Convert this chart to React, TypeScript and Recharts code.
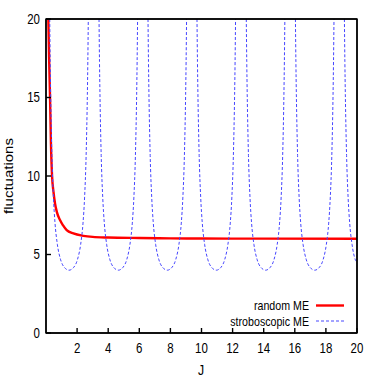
import { LineChart, Line, XAxis, YAxis } from 'recharts';

// random ME curve
const randomJ = [0.15, 0.2, 0.26, 0.32, 0.39, 0.48, 0.58, 0.7, 0.9, 1.1, 1.33, 1.76, 2.4, 3, 4, 6, 8, 10, 14, 20];
const randomValues = [20, 17.5, 15, 12, 10, 9, 8.25, 7.7, 7.19, 6.85, 6.55, 6.34, 6.19, 6.12, 6.08, 6.05, 6.03, 6.02, 6.01, 6.0];

// stroboscopic ME curve (null = goes off the top of the plot)
const stroboJ = [
  0.24, 0.27, 0.3, 0.38, 0.48, 0.58, 0.73, 0.93, 1.18, 1.48, 1.78, 2.03, 2.23, 2.38, 2.48, 2.58, 2.66, 2.69, 2.72,
  3.06,
  3.41, 3.44, 3.47, 3.55, 3.65, 3.75, 3.9, 4.1, 4.35, 4.65, 4.95, 5.2, 5.4, 5.55, 5.65, 5.75, 5.83, 5.86, 5.89,
  6.22,
  6.56, 6.59, 6.62, 6.7, 6.8, 6.9, 7.05, 7.25, 7.5, 7.8, 8.1, 8.35, 8.55, 8.7, 8.8, 8.9, 8.98, 9.01, 9.04,
  9.38,
  9.71, 9.74, 9.77, 9.85, 9.95, 10.05, 10.2, 10.4, 10.65, 10.95, 11.25, 11.5, 11.7, 11.85, 11.95, 12.05, 12.13, 12.16, 12.19,
  12.53,
  12.88, 12.91, 12.94, 13.02, 13.12, 13.22, 13.37, 13.57, 13.82, 14.12, 14.42, 14.67, 14.87, 15.02, 15.12, 15.22, 15.3, 15.33, 15.36,
  15.7,
  16.04, 16.07, 16.1, 16.18, 16.28, 16.38, 16.53, 16.73, 16.98, 17.28, 17.58, 17.83, 18.03, 18.18, 18.28, 18.38, 18.46, 18.49, 18.52,
  18.85,
  19.19, 19.22, 19.25, 19.33, 19.43, 19.53, 19.68, 19.88, 20,
];
const stroboValues: (number | null)[] = [
  20, 17.3, 15.2, 11.3, 8.6, 7.0, 5.65, 4.7, 4.18, 4.0, 4.18, 4.7, 5.65, 7.0, 8.6, 11.3, 15.2, 17.3, 20,
  null,
  20, 17.3, 15.2, 11.3, 8.6, 7.0, 5.65, 4.7, 4.18, 4.0, 4.18, 4.7, 5.65, 7.0, 8.6, 11.3, 15.2, 17.3, 20,
  null,
  20, 17.3, 15.2, 11.3, 8.6, 7.0, 5.65, 4.7, 4.18, 4.0, 4.18, 4.7, 5.65, 7.0, 8.6, 11.3, 15.2, 17.3, 20,
  null,
  20, 17.3, 15.2, 11.3, 8.6, 7.0, 5.65, 4.7, 4.18, 4.0, 4.18, 4.7, 5.65, 7.0, 8.6, 11.3, 15.2, 17.3, 20,
  null,
  20, 17.3, 15.2, 11.3, 8.6, 7.0, 5.65, 4.7, 4.18, 4.0, 4.18, 4.7, 5.65, 7.0, 8.6, 11.3, 15.2, 17.3, 20,
  null,
  20, 17.3, 15.2, 11.3, 8.6, 7.0, 5.65, 4.7, 4.18, 4.0, 4.18, 4.7, 5.65, 7.0, 8.6, 11.3, 15.2, 17.3, 20,
  null,
  20, 17.3, 15.2, 11.3, 8.6, 7.0, 5.65, 4.7, 4.5,
];

const xTicks = [2, 4, 6, 8, 10, 12, 14, 16, 18, 20];
const yTicks = [0, 5, 10, 15, 20];

const randomData = randomJ.map((j, i) => ({ j, value: randomValues[i] }));
const stroboData = stroboJ.map((j, i) => ({ j, value: stroboValues[i] }));

const RED = '#ff0000';
const BLUE = '#4646ff';
const FONT = '"Liberation Sans", Arial, sans-serif';
const SQUEEZE = 0.82;

// the original picture is squeezed horizontally, so the text is too
const XTick = ({ x, y, payload }: any) => (
  <g transform={`translate(${x},${y})`}>
    <text transform={`scale(${SQUEEZE},1)`} textAnchor="middle" dy="0.71em" fontSize={14} fill="#000" stroke="none" fontFamily={FONT}>
      {payload.value}
    </text>
  </g>
);

const YTick = ({ x, y, payload }: any) => (
  <g transform={`translate(${x},${y})`}>
    <text transform={`scale(${SQUEEZE},1)`} textAnchor="end" dy="0.355em" fontSize={14} fill="#000" stroke="none" fontFamily={FONT}>
      {payload.value}
    </text>
  </g>
);

export default function App() {
  return (
    <div style={{ position: 'absolute', left: 0, top: 0, width: 382, height: 382 }}>
      <LineChart width={382} height={382} margin={{ top: 0, right: 5, bottom: 0, left: 0 }}>
        <XAxis
          xAxisId="b"
          type="number"
          dataKey="j"
          domain={[0, 20]}
          ticks={xTicks}
          height={49}
          stroke="#000"
          strokeWidth={1.4}
          tickSize={-5}
          tickMargin={15}
          tick={<XTick />}
        />
        <XAxis
          xAxisId="t"
          orientation="top"
          type="number"
          dataKey="j"
          domain={[0, 20]}
          ticks={xTicks}
          height={19}
          stroke="#000"
          strokeWidth={1.4}
          tickSize={-5}
          tick={false}
        />
        <YAxis
          yAxisId="l"
          type="number"
          domain={[0, 20]}
          ticks={yTicks}
          width={46}
          stroke="#000"
          strokeWidth={1.4}
          tickSize={-5}
          tickMargin={11}
          tick={<YTick />}
        />
        <YAxis
          yAxisId="r"
          orientation="right"
          type="number"
          domain={[0, 20]}
          ticks={yTicks}
          width={20}
          stroke="#000"
          strokeWidth={1.4}
          tickSize={-5}
          tick={false}
        />
        <Line
          xAxisId="b"
          yAxisId="l"
          data={randomData}
          dataKey="value"
          type="monotone"
          stroke={RED}
          strokeWidth={2.4}
          dot={false}
          isAnimationActive={false}
        />
        <Line
          xAxisId="b"
          yAxisId="l"
          data={stroboData}
          dataKey="value"
          type="monotone"
          stroke={BLUE}
          strokeWidth={1}
          strokeDasharray="3 2"
          dot={false}
          connectNulls={false}
          isAnimationActive={false}
        />
      </LineChart>
      <svg width={382} height={382} style={{ position: 'absolute', left: 0, top: 0, pointerEvents: 'none' }}>
        {/* plot frame, same box as the axes */}
        <rect x={46} y={19} width={311} height={314} fill="none" stroke="#000" strokeWidth={1.4} />
        <g fontFamily={FONT} fill="#000">
          <g transform={`translate(201,375) scale(${SQUEEZE},1)`}>
            <text textAnchor="middle" fontSize={15}>J</text>
          </g>
          <g transform={`translate(13,176) scale(${SQUEEZE},1) rotate(-90)`}>
            <text textAnchor="middle" fontSize={15}>fluctuations</text>
          </g>
          <g transform={`translate(309,310) scale(${SQUEEZE},1)`}>
            <text textAnchor="end" fontSize={13}>random ME</text>
          </g>
          <g transform={`translate(309,326) scale(${SQUEEZE},1)`}>
            <text textAnchor="end" fontSize={13}>stroboscopic ME</text>
          </g>
        </g>
        <line x1={316} x2={344} y1={305.5} y2={305.5} stroke={RED} strokeWidth={2.4} />
        <line x1={316} x2={344} y1={321} y2={321} stroke={BLUE} strokeWidth={1} strokeDasharray="3 2" />
      </svg>
    </div>
  );
}
